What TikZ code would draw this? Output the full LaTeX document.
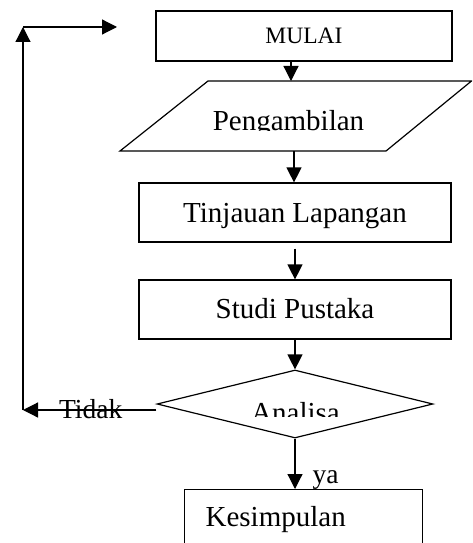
\documentclass[tikz,border=0pt]{standalone}
\usepackage{fontspec}
\setmainfont{Liberation Serif}
\usetikzlibrary{arrows.meta,shapes.geometric}
\begin{document}
\begin{tikzpicture}[x=1pt,y=-1pt,
  line width=1.2pt,
  arr/.style={-{Triangle[length=15pt,width=15pt]}},
  box/.style={draw, rectangle, inner sep=0pt},
  big/.style={font=\fontsize{29}{34}\selectfont},
  lbl/.style={font=\fontsize{27.5}{32}\selectfont, inner sep=0pt}
]
\useasboundingbox (0,0) rectangle (472,543);
\clip (0,0) rectangle (472,543);

% boxes
\node[box, minimum width=296pt, minimum height=50pt, text height=18pt, text depth=2pt,
      font=\fontsize{23.5}{28}\selectfont] (mulai) at (304,36) {MULAI};

\coordinate (pbl) at (120,151);
\coordinate (pbr) at (386,151);
\coordinate (ptr) at (471.5,81);
\coordinate (ptl) at (208,81);
\draw (pbl) -- (pbr) -- (ptr) -- (ptl) -- cycle;
\begin{scope}
  \clip (150,90) rectangle (430,130.5);
  \node[big, anchor=base, inner sep=0pt] (peng) at (288.5,130) {Pengambilan};
\end{scope}

\node[box, big, minimum width=312pt, minimum height=59pt, text height=22pt, text depth=3pt]
  (tinj) at (295,212.5) {Tinjauan Lapangan};
\node[box, big, minimum width=312pt, minimum height=59pt, text height=21pt, text depth=4pt]
  (studi) at (295,309.5) {Studi Pustaka};

\node[draw, diamond, minimum width=276pt, minimum height=68pt, inner sep=0pt, aspect=4]
  (dia) at (295,404) {};
\begin{scope}
  \clip (200,390) rectangle (390,416.5);
  \node[big, anchor=base, inner sep=0pt] (anl) at (295.5,422) {Analisa};
\end{scope}

\node[box, big, anchor=north west, minimum width=238pt, minimum height=90pt,
      text width=196pt, align=left, inner xsep=21pt, text height=2pt, text depth=19pt]
  (kes) at (184,489) {Kesimpulan};

% labels
\node[lbl, anchor=base west] (tidak) at (58.5,418) {Tidak};
\node[lbl, anchor=base west] (ya) at (312,483) {ya};

% connectors
\coordinate (ptop) at (291,81);
\draw[arr] (ptop |- mulai.south) -- (ptop);
\coordinate (pbot) at (294,151);
\draw[arr] (pbot) -- (pbot |- tinj.north);
\draw[arr, shorten <=6pt] (tinj.south) -- (studi.north);
\draw[arr] (studi.south) -- (dia.north);
\draw[arr] (dia.south) -- (dia.south |- kes.north);

\coordinate (c1) at (23,410);
\coordinate (c2) at (23,27);
\coordinate (c3) at (117,27);
\draw[arr] ([yshift=-6pt]dia.west) -- (c1);
\draw[arr] (c1) -- (c2);
\draw[arr] (c2) -- (c3);
\end{tikzpicture}
\end{document}
